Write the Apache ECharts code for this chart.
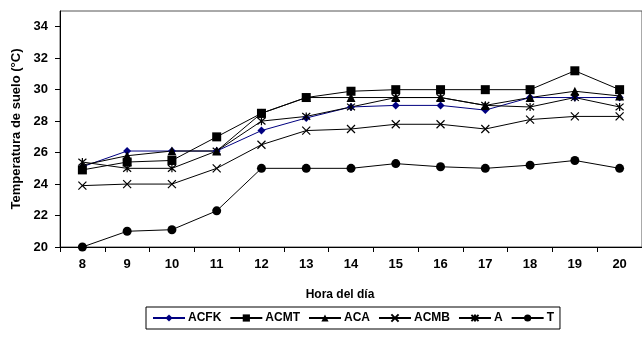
<!DOCTYPE html>
<html>
<head>
<meta charset="utf-8">
<script src="https://cdn.jsdelivr.net/npm/echarts@6/dist/echarts.min.js"></script>
<style>
  html, body { margin: 0; padding: 0; background: #fff; }
  #chart { width: 642px; height: 339px; }
</style>
</head>
<body>
<div id="chart"></div>
<script>
// Hour of day (x categories)
const hours = ['8', '9', '10', '11', '12', '13', '14', '15', '16', '17', '18', '19', '20'];

// Soil temperature (°C) per treatment
const acfk = [25.1, 26.1, 26.1, 26.1, 27.4, 28.2, 28.9, 29.0, 29.0, 28.7, 29.5, 29.5, 29.5];
const acmt = [24.9, 25.4, 25.5, 27.0, 28.5, 29.5, 29.9, 30.0, 30.0, 30.0, 30.0, 31.2, 30.0];
const aca  = [25.2, 25.8, 26.1, 26.1, 28.5, 29.5, 29.5, 29.5, 29.5, 29.0, 29.5, 29.9, 29.6];
const acmb = [23.9, 24.0, 24.0, 25.0, 26.5, 27.4, 27.5, 27.8, 27.8, 27.5, 28.1, 28.3, 28.3];
const a    = [25.4, 25.0, 25.0, 26.1, 28.0, 28.3, 28.9, 29.5, 29.5, 29.0, 28.9, 29.5, 28.9];
const t    = [20.0, 21.0, 21.1, 22.3, 25.0, 25.0, 25.0, 25.3, 25.1, 25.0, 25.2, 25.5, 25.0];

// Y axis scale
const yMin = 20, yMax = 35, yStep = 2;

const FONT = 'Liberation Sans, Arial, sans-serif';

const crossPath = 'path://M0,0L10,10M10,0L0,10';
const starPath = 'path://M0,0L10,10M10,0L0,10M5,-1L5,11';

function lineSeries(name, data, color, symbol, size, stroked) {
  return {
    name: name,
    type: 'line',
    data: data,
    symbol: symbol,
    symbolSize: size,
    showSymbol: true,
    z: 3,
    lineStyle: { color: color, width: 1 },
    itemStyle: stroked
      ? { color: color, borderColor: color, borderWidth: 1.2 }
      : { color: color, borderWidth: 0 },
    emphasis: { disabled: true },
    animation: false
  };
}

const chart = echarts.init(document.getElementById('chart'), null, { renderer: 'canvas' });

chart.setOption({
  backgroundColor: '#fff',
  animation: false,
  grid: {
    left: 60, top: 11, right: -3, bottom: 92,
    show: true, borderColor: '#555', borderWidth: 1, backgroundColor: 'transparent'
  },
  xAxis: {
    type: 'category',
    data: hours,
    boundaryGap: true,
    name: 'Hora del día',
    nameLocation: 'middle',
    nameGap: 42,
    nameTextStyle: { fontFamily: FONT, fontWeight: 'bold', fontSize: 12, color: '#000', padding: [0, 22, 0, 0] },
    axisLine: { lineStyle: { color: '#000', width: 1 } },
    axisTick: { show: true, inside: false, length: 5, lineStyle: { color: '#000' } },
    axisLabel: { fontFamily: FONT, fontWeight: 'bold', fontSize: 13, color: '#000', margin: 11 },
    splitLine: { show: false }
  },
  yAxis: {
    type: 'value',
    min: yMin,
    max: yMax,
    interval: yStep,
    name: 'Temperatura de suelo (°C)',
    nameLocation: 'middle',
    nameRotate: 90,
    nameGap: 36,
    nameTextStyle: { fontFamily: FONT, fontWeight: 'bold', fontSize: 13, color: '#000' },
    axisLine: { show: true, lineStyle: { color: '#000', width: 1 } },
    axisTick: { show: true, inside: false, length: 5, lineStyle: { color: '#000' } },
    axisLabel: { fontFamily: FONT, fontWeight: 'bold', fontSize: 13, color: '#000', margin: 12, showMaxLabel: false },
    splitLine: { show: false }
  },
  legend: {
    left: 146,
    top: 307,
    orient: 'horizontal',
    borderColor: '#000',
    borderWidth: 1,
    padding: [5, 6, 5, 6],
    itemWidth: 32,
    itemHeight: 9,
    itemGap: 8,
    textStyle: { fontFamily: FONT, fontWeight: 'bold', fontSize: 12, color: '#000', padding: [0, 0, 0, -2] },
    data: ['ACFK', 'ACMT', 'ACA', 'ACMB', 'A', 'T']
  },
  series: [
    lineSeries('ACFK', acfk, '#000080', 'diamond', 8, false),
    lineSeries('ACMT', acmt, '#000', 'rect', 9, false),
    lineSeries('ACA', aca, '#000', 'triangle', 9, false),
    lineSeries('ACMB', acmb, '#000', crossPath, 8, true),
    lineSeries('A', a, '#000', starPath, 8, true),
    lineSeries('T', t, '#000', 'circle', 9, false)
  ]
});
</script>
</body>
</html>
